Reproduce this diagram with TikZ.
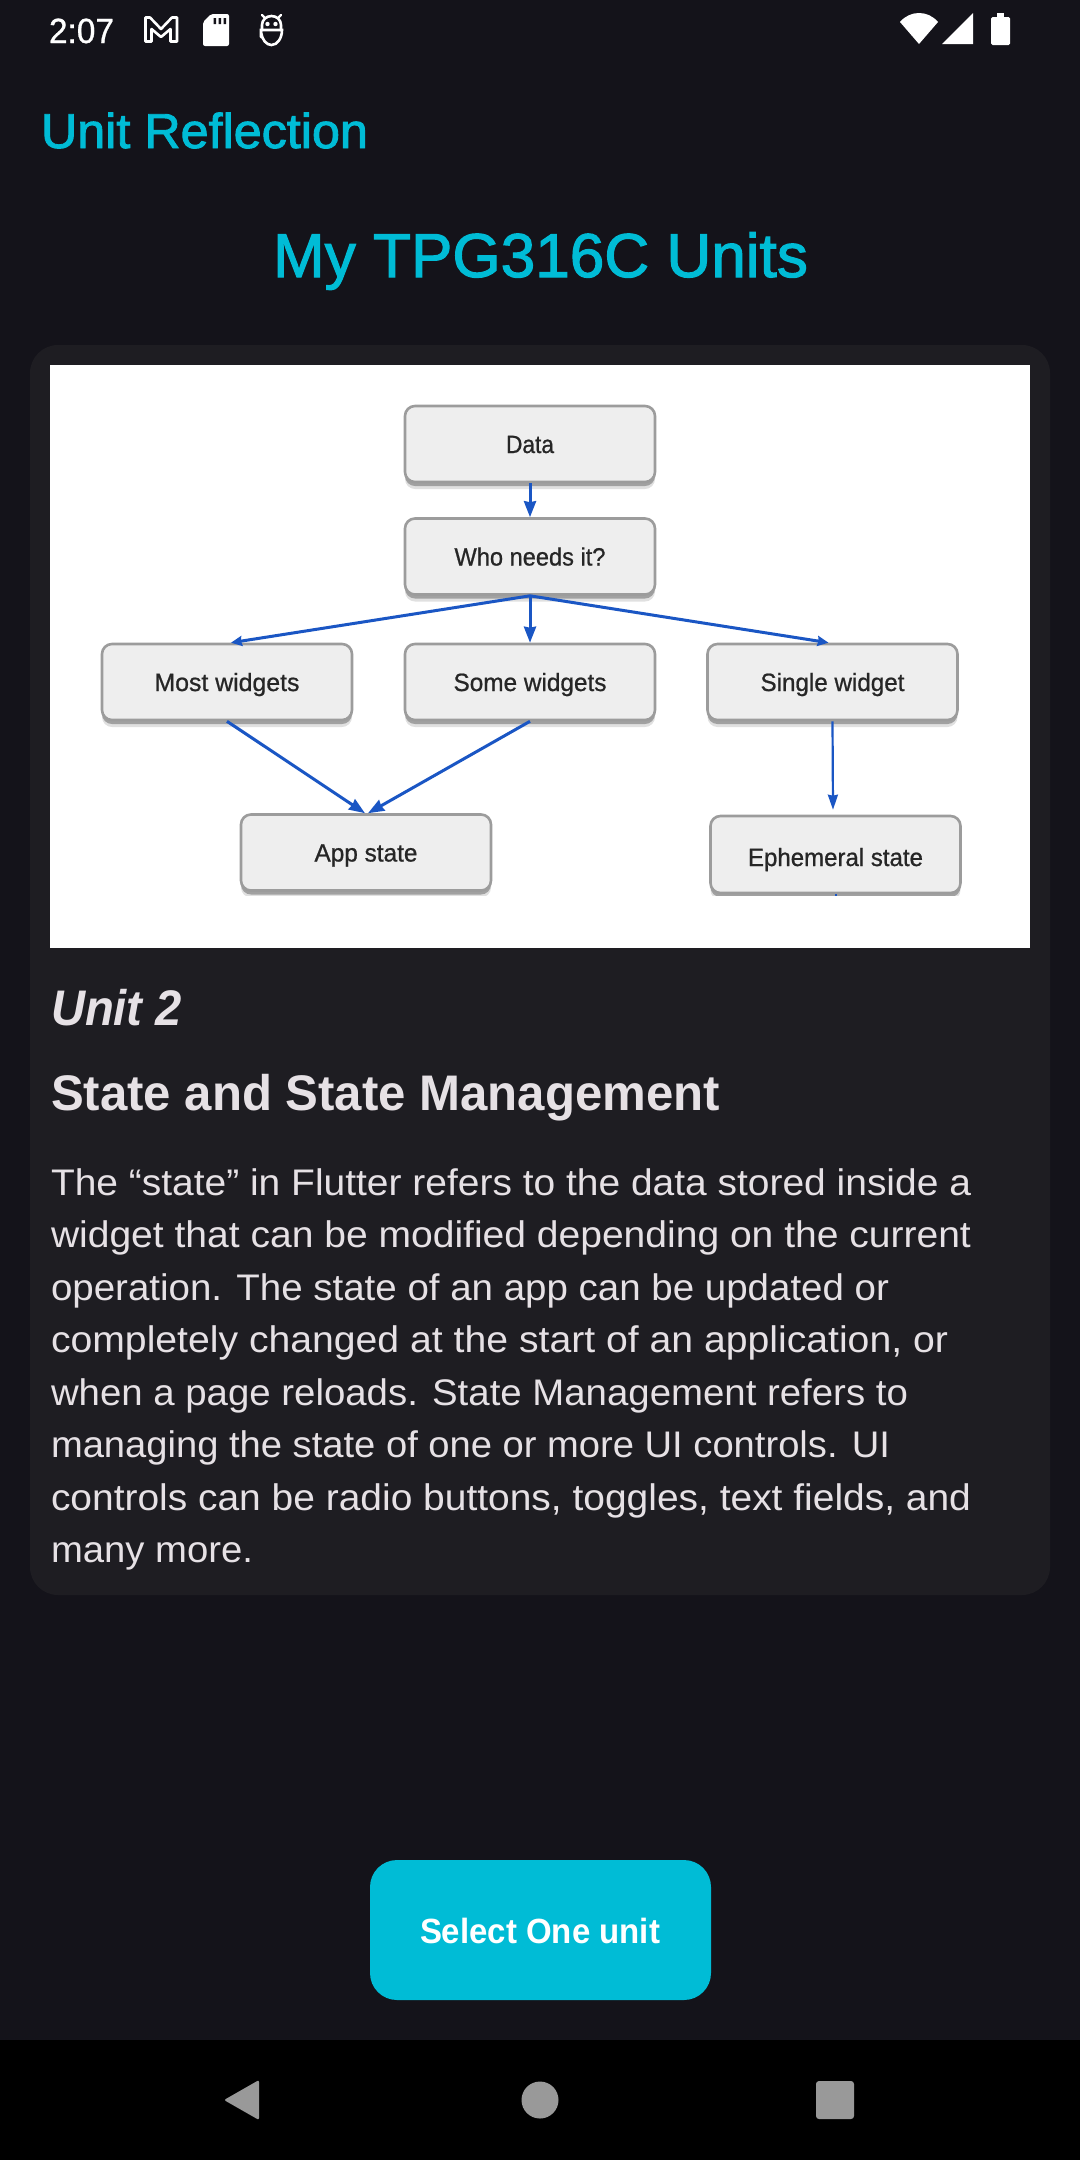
\documentclass[tikz,border=0pt]{standalone}
\usepackage{fontspec}
\usepackage{graphicx}
\setmainfont{Liberation Sans}
\newfontfamily\medfont[FakeBold=0.8]{Liberation Sans}
\newfontfamily\headfont[FakeBold=1.8]{Liberation Sans}
\usetikzlibrary{arrows.meta,shadows}
\definecolor{bgc}{HTML}{14131A}
\definecolor{cardc}{HTML}{1E1D22}
\definecolor{cyanc}{HTML}{00BCD6}
\definecolor{inkc}{HTML}{E6E1E5}
\definecolor{navc}{HTML}{999999}
\definecolor{boxc}{HTML}{EEEEEE}
\definecolor{edgec}{HTML}{9C9C9C}
\definecolor{linkc}{HTML}{1A56C4}
\newcommand{\fitw}[2]{\resizebox{#1pt}{\height}{#2}}
\newcommand{\fsz}[1]{\fontsize{#1}{#1}\selectfont}
\tikzset{
  tx/.style={anchor=base west,inner sep=0pt,outer sep=0pt},
  title/.style={tx,text=cyanc},
  body/.style={tx,text=inkc},
  flowbox/.style={draw=edgec,line width=2.6pt,fill=boxc,rounded corners=10pt,
    minimum width=250pt,minimum height=76pt,inner sep=0pt,
    text=black!85,text height=18pt,text depth=0pt,font=\medfont\fsz{25},
    general shadow={shadow xshift=0pt,shadow yshift=-7pt,fill=black,opacity=.12},
    general shadow={shadow xshift=0pt,shadow yshift=-4pt,fill=black,opacity=.28}},
  link/.style={draw=linkc,line width=3pt,-{Stealth[length=16pt,width=12pt,inset=1pt]}},
  thin link/.style={draw=linkc,line width=2.2pt,-{Stealth[length=15pt,width=10pt,inset=1pt]}},
  small link/.style={draw=linkc,line width=3pt,-{Stealth[length=11pt,width=10pt,inset=1pt]}},
  icon/.style={fill=white,draw=none},
}
\begin{document}
\begin{tikzpicture}[x=1pt,y=-1pt]
\useasboundingbox (0,0) rectangle (1080,2160);
\fill[bgc] (0,0) rectangle (1080,2040);
\fill[black] (0,2040) rectangle (1080,2160);

% status bar
\node[tx,text=white,font=\medfont\fsz{35}] (clock) at (49,43) {\fitw{65}{2:07}};
\draw[white,line width=2.6pt,line join=round] (145.5,41.5) -- (145.5,17.5) -- (150,17.5) -- (161,29) -- (172,17.5) -- (177,17.5) -- (177,41.5) -- (170.5,41.5) -- (170.5,29) -- (161,37) -- (151.5,29) -- (151.5,41.5) -- cycle;
\fill[icon,rounded corners=2pt] (211,14) -- (229,14) -- (229,46) -- (203,46) -- (203,22) -- cycle;
\fill[bgc] (213.5,18) rectangle (216,24) (218.5,18) rectangle (221,24) (223.5,18) rectangle (226,24);
\draw[white,line width=2.6pt,line cap=round] (261,37) -- (261,30) -- (282,30) arc[start angle=0,end angle=170,x radius=10.5,y radius=15];
\draw[white,line width=2.6pt,line cap=round] (262,30) -- (262,25) arc[start angle=180,end angle=360,x radius=9.5,y radius=9] -- (281,30);
\draw[white,line width=2.4pt,line cap=round] (262,15) -- (265,18) (281,15) -- (278,18);
\fill[white] (267.5,24) circle (2.2pt) (275.5,24) circle (2.2pt);
\fill[icon] (900,22) .. controls (905,16) and (912,13) .. (919,13) .. controls (926,13) and (933,16) .. (938,22) -- (919,44) -- cycle;
\fill[icon] (942,44) -- (973,13) -- (973,44) -- cycle;
\fill[icon,rounded corners=1.5pt] (991,17) rectangle (1010,45);
\fill[icon] (997,13) rectangle (1004,18);

% header
\node[title,font=\headfont\fsz{49}] (appbar) at (41,148) {\fitw{327}{Unit Reflection}};
\node[title,font=\headfont\fsz{62}] (heading) at (273,277) {\fitw{535}{My TPG316C Units}};

% card
\fill[cardc,rounded corners=28pt] (30,345) rectangle (1050,1595);
\fill[white] (50,365) rectangle (1030,948);

% diagram image
\begin{scope}
\clip (50,365) rectangle (1030,895);
\node[flowbox] (data) at (530,444) {\fitw{48}{Data}};
\node[flowbox] (who) at (530,556.5) {\fitw{151}{Who needs it?}};
\node[flowbox] (most) at (227,682) {\fitw{145}{Most widgets}};
\node[flowbox] (some) at (530,682) {\fitw{153}{Some widgets}};
\node[flowbox] (single) at (832.5,682) {\fitw{144}{Single widget}};
\node[flowbox] (app) at (366,852.5) {\fitw{103}{App state}};
\node[flowbox,minimum height=77pt,text height=23pt] (eph) at (835.5,854.5) {\fitw{175}{Ephemeral state}};
\draw[link] (data.south) -- (who.north);
\draw[small link] (who.south) -- ([xshift=4pt]most.north);
\draw[link] (who.south) -- (some.north);
\draw[small link] (who.south) -- ([xshift=-4pt]single.north);
\draw[link] (most.south) -- ([xshift=-1pt]app.north);
\draw[link] (some.south) -- ([xshift=2pt]app.north);
\draw[thin link] (single.south) -- ([xshift=-2.5pt,yshift=5pt]eph.north);
\draw[linkc,line width=2pt] (eph.south) -- ([yshift=-4pt]eph.south);
\end{scope}

% card text
\node[body,font=\fsz{50}\bfseries\itshape] (unit) at (51,1025) {\fitw{131}{Unit 2}};
\node[body,font=\fsz{50}\bfseries] (sub) at (51,1110) {\fitw{669}{State and State Management}};
\node[body,font=\fsz{37}] (l1) at (51,1195) {\fitw{920}{The “state” in Flutter refers to the data stored inside a}};
\node[body,font=\fsz{37}] (l2) at (51,1247.5) {\fitw{920}{widget that can be modified depending on the current}};
\node[body,font=\fsz{37}] (l3) at (51,1300) {\fitw{838}{operation. The state of an app can be updated or}};
\node[body,font=\fsz{37}] (l4) at (51,1352.5) {\fitw{897}{completely changed at the start of an application, or}};
\node[body,font=\fsz{37}] (l5) at (51,1405) {\fitw{857}{when a page reloads. State Management refers to}};
\node[body,font=\fsz{37}] (l6) at (51,1457.5) {\fitw{839}{managing the state of one or more UI controls. UI}};
\node[body,font=\fsz{37}] (l7) at (51,1510) {\fitw{920}{controls can be radio buttons, toggles, text fields, and}};
\node[body,font=\fsz{37}] (l8) at (51,1562.5) {\fitw{202}{many more.}};

% button
\fill[cyanc,rounded corners=27pt] (370,1860) rectangle (711,2000);
\node[tx,text=white,font=\fsz{35}\bfseries] (select) at (420,1943) {\fitw{240}{Select One unit}};

% navigation bar
\fill[navc,rounded corners=2pt] (259,2080) -- (259,2120) -- (224,2100) -- cycle;
\fill[navc] (540,2100) circle (18.5pt);
\fill[navc,rounded corners=3pt] (816,2081) rectangle (854,2119);
\end{tikzpicture}
\end{document}
